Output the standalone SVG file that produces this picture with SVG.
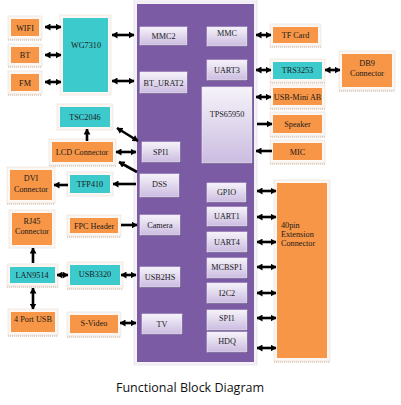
<svg xmlns="http://www.w3.org/2000/svg" width="401" height="405" viewBox="0 0 401 405">
<defs>
<linearGradient id="lav" x1="0" y1="0" x2="0" y2="1">
<stop offset="0" stop-color="#F6F3FA"/>
<stop offset="1" stop-color="#CBBCE0"/>
</linearGradient>
<marker id="ah" viewBox="0 0 6 7" markerWidth="6" markerHeight="7" refX="5.5" refY="3.5" orient="auto-start-reverse" markerUnits="userSpaceOnUse">
<path d="M0,0 L6,3.5 L0,7 z" fill="#000"/>
</marker>
<style>
.fr{fill:#FCF7F3;stroke:#E6DCD3;stroke-width:0.6}
.sh{stroke:#B89A80;stroke-width:0.8;stroke-dasharray:1.2 0.8}
.or{fill:#F79646}
.cy{fill:#3CCACD}
.pu{fill:#7B5BA4}
.in{fill:url(#lav);stroke:#EDE8F3;stroke-width:0.6}
.ish{fill:#5B437D}
text{font-family:"Liberation Serif","Times New Roman",serif;font-size:8.2px;fill:#1a1a1a;text-anchor:middle}
.l{text-anchor:start}
.c line{stroke:#000;stroke-width:2.6}
.d{marker-start:url(#ah);marker-end:url(#ah)}
.e{marker-end:url(#ah)}
.t{font-family:"Open Sans","Liberation Sans",sans-serif;font-size:12.5px;fill:#111}
</style>
</defs>
<rect width="401" height="405" fill="#fff"/>

<g id="main">
<rect x="134" y="1" width="123" height="364" fill="#F4F2F7" stroke="#DDD6E6" stroke-width="0.6"/>
<rect class="pu" x="137" y="4" width="117" height="358"/>
</g>

<g id="wifi"><rect class="fr" x="8" y="16" width="34" height="23"/><line class="sh" x1="8" y1="40" x2="42" y2="40"/><rect class="or" x="11" y="19" width="28" height="17"/><text x="25" y="31">WIFI</text></g>
<g id="bt"><rect class="fr" x="8" y="44" width="34" height="22"/><line class="sh" x1="8" y1="67" x2="42" y2="67"/><rect class="or" x="11" y="47" width="28" height="16"/><text x="25" y="58">BT</text></g>
<g id="fm"><rect class="fr" x="8" y="71" width="34" height="23"/><line class="sh" x1="8" y1="95" x2="42" y2="95"/><rect class="or" x="11" y="74" width="28" height="17"/><text x="25" y="86">FM</text></g>
<g id="wg7310"><rect class="fr" x="60" y="15" width="51" height="80"/><rect class="cy" x="63" y="18" width="45" height="74"/><text x="86" y="48">WG7310</text></g>

<g id="tsc2046"><rect class="fr" x="57" y="104" width="56" height="26"/><rect class="cy" x="60" y="107" width="50" height="20"/><text x="85" y="120">TSC2046</text></g>
<g id="lcd"><rect class="fr" x="49" y="139" width="67" height="26"/><line class="sh" x1="49" y1="166" x2="116" y2="166"/><rect class="or" x="52" y="142" width="61" height="20"/><text x="82" y="155">LCD Connector</text></g>
<g id="dvi"><rect class="fr" x="7" y="167" width="48" height="36"/><line class="sh" x1="7" y1="204" x2="55" y2="204"/><rect class="or" x="10" y="170" width="42" height="30"/><text x="31" y="181">DVI</text><text x="31" y="192">Connector</text></g>
<g id="tfp410"><rect class="fr" x="67" y="172" width="46" height="24"/><rect class="cy" x="70" y="175" width="40" height="18"/><text x="90" y="187">TFP410</text></g>
<g id="rj45"><rect class="fr" x="9" y="210" width="46" height="38"/><rect class="or" x="12" y="213" width="40" height="32"/><text x="32" y="224">RJ45</text><text x="32" y="234">Connector</text></g>
<g id="fpc"><rect class="fr" x="67" y="215" width="54" height="21"/><line class="sh" x1="67" y1="237" x2="121" y2="237"/><rect class="or" x="70" y="218" width="48" height="15"/><text x="94" y="228.5">FPC Header</text></g>
<g id="lan9514"><rect class="fr" x="7" y="264" width="51" height="22"/><line class="sh" x1="7" y1="287" x2="58" y2="287"/><rect class="cy" x="10" y="267" width="45" height="16"/><text x="32" y="278">LAN9514</text></g>
<g id="usb3320"><rect class="fr" x="67" y="262" width="56" height="26"/><line class="sh" x1="67" y1="289" x2="123" y2="289"/><rect class="cy" x="70" y="265" width="50" height="20"/><text x="95" y="277">USB3320</text></g>
<g id="usb4"><rect class="fr" x="8" y="309" width="50" height="26"/><line class="sh" x1="8" y1="336" x2="58" y2="336"/><rect class="or" x="11" y="312" width="44" height="20"/><text x="33" y="321.5">4 Port USB</text></g>
<g id="svideo"><rect class="fr" x="67" y="312" width="54" height="24"/><line class="sh" x1="67" y1="337" x2="121" y2="337"/><rect class="or" x="70" y="315" width="48" height="18"/><text x="94" y="326">S-Video</text></g>

<g id="tfcard"><rect class="fr" x="270" y="24" width="51" height="22"/><line class="sh" x1="270" y1="47" x2="321" y2="47"/><rect class="or" x="273" y="27" width="45" height="16"/><text x="295.5" y="38">TF Card</text></g>
<g id="trs3253"><rect class="fr" x="270" y="59" width="55" height="23"/><line class="sh" x1="270" y1="83" x2="325" y2="83"/><rect class="cy" x="273" y="62" width="49" height="17"/><text x="297.5" y="73">TRS3253</text></g>
<g id="db9"><rect class="fr" x="339" y="51" width="56" height="39"/><line class="sh" x1="339" y1="91" x2="395" y2="91"/><rect class="or" x="342" y="54" width="50" height="33"/><text x="367" y="66">DB9</text><text x="367" y="76">Connector</text></g>
<g id="usbmini"><rect class="fr" x="270" y="85" width="55" height="23"/><line class="sh" x1="270" y1="109" x2="325" y2="109"/><rect class="or" x="273" y="88" width="49" height="17"/><text x="297.5" y="100">USB-Mini AB</text></g>
<g id="speaker"><rect class="fr" x="270" y="112" width="55" height="24"/><line class="sh" x1="270" y1="137" x2="325" y2="137"/><rect class="or" x="273" y="115" width="49" height="18"/><text x="297.5" y="127">Speaker</text></g>
<g id="mic"><rect class="fr" x="270" y="140" width="55" height="23"/><line class="sh" x1="270" y1="164" x2="325" y2="164"/><rect class="or" x="273" y="143" width="49" height="17"/><text x="297.5" y="154.5">MIC</text></g>
<g id="ext40"><rect class="fr" x="274" y="180" width="56" height="181"/><line class="sh" x1="274" y1="362" x2="330" y2="362"/><rect class="or" x="277" y="183" width="50" height="175"/><text class="l" x="281" y="228">40pin</text><text class="l" x="281" y="237">Extension</text><text class="l" x="281" y="246">Connector</text></g>

<g id="inner">
<g id="mmc2"><rect class="ish" x="141" y="28" width="47" height="18"/><rect class="in" x="140" y="27" width="47" height="18"/><text x="163.5" y="39">MMC2</text></g>
<g id="mmc"><rect class="ish" x="208" y="28" width="40" height="19"/><rect class="in" x="207" y="27" width="40" height="19"/><text x="227" y="36">MMC</text></g>
<g id="uart3"><rect class="ish" x="208" y="61" width="40" height="20"/><rect class="in" x="207" y="60" width="40" height="20"/><text x="227" y="73">UART3</text></g>
<g id="bturat2"><rect class="ish" x="141" y="73" width="47" height="21"/><rect class="in" x="140" y="72" width="47" height="21"/><text x="163.5" y="86">BT_URAT2</text></g>
<g id="tps65950"><rect class="ish" x="203" y="88" width="50" height="76"/><rect class="in" x="202" y="87" width="50" height="76"/><text x="227" y="117">TPS65950</text></g>
<g id="spi1a"><rect class="ish" x="143" y="143" width="38" height="20"/><rect class="in" x="142" y="142" width="38" height="20"/><text x="161" y="155">SPI1</text></g>
<g id="dss"><rect class="ish" x="141" y="175" width="39" height="23"/><rect class="in" x="140" y="174" width="39" height="23"/><text x="159.5" y="187">DSS</text></g>
<g id="gpio"><rect class="ish" x="208" y="184" width="39" height="19"/><rect class="in" x="207" y="183" width="39" height="19"/><text x="226.5" y="195">GPIO</text></g>
<g id="uart1"><rect class="ish" x="208" y="208" width="40" height="19"/><rect class="in" x="207" y="207" width="40" height="19"/><text x="227" y="219">UART1</text></g>
<g id="uart4"><rect class="ish" x="208" y="233" width="40" height="20"/><rect class="in" x="207" y="232" width="40" height="20"/><text x="227" y="245">UART4</text></g>
<g id="mcbsp1"><rect class="ish" x="208" y="259" width="40" height="20"/><rect class="in" x="207" y="258" width="40" height="20"/><text x="227" y="270">MCBSP1</text></g>
<g id="i2c2"><rect class="ish" x="208" y="284" width="40" height="20"/><rect class="in" x="207" y="283" width="40" height="20"/><text x="227" y="296">I2C2</text></g>
<g id="spi1b"><rect class="ish" x="208" y="311" width="40" height="20"/><rect class="in" x="207" y="310" width="40" height="20"/><text x="227" y="321">SPI1</text></g>
<g id="hdq"><rect class="ish" x="208" y="333" width="40" height="20"/><rect class="in" x="207" y="332" width="40" height="20"/><text x="227" y="344">HDQ</text></g>
<g id="camera"><rect class="ish" x="141" y="216" width="40" height="20"/><rect class="in" x="140" y="215" width="40" height="20"/><text x="160" y="228">Camera</text></g>
<g id="usb2hs"><rect class="ish" x="141" y="268" width="40" height="20"/><rect class="in" x="140" y="267" width="40" height="20"/><text x="160" y="280">USB2HS</text></g>
<g id="tv"><rect class="ish" x="143" y="315" width="40" height="20"/><rect class="in" x="142" y="314" width="40" height="20"/><text x="162" y="327">TV</text></g>
</g>

<g id="connectors" class="c">
<line class="d" x1="45" y1="27" x2="61" y2="27"/>
<line class="d" x1="45" y1="55" x2="61" y2="55"/>
<line class="d" x1="45" y1="82" x2="61" y2="82"/>
<line class="d" x1="112" y1="35" x2="134" y2="35"/>
<line class="d" x1="112" y1="81" x2="134" y2="81"/>
<line class="e" x1="87" y1="141" x2="87" y2="129"/>
<line class="d" x1="117" y1="128" x2="138" y2="141"/>
<line class="d" x1="116" y1="152" x2="136" y2="152"/>
<line class="e" x1="137" y1="172" x2="119" y2="162"/>
<line class="e" x1="136" y1="184" x2="113" y2="184"/>
<line class="e" x1="68" y1="185" x2="54" y2="185"/>
<line class="e" x1="121" y1="225" x2="137" y2="225"/>
<line class="e" x1="33" y1="263" x2="33" y2="248"/>
<line class="d" x1="57" y1="275" x2="68" y2="275"/>
<line class="d" x1="121" y1="275" x2="136" y2="275"/>
<line class="d" x1="33" y1="288" x2="33" y2="309"/>
<line class="d" x1="120" y1="323" x2="136" y2="323"/>
<line class="d" x1="256" y1="35" x2="271" y2="35"/>
<line class="d" x1="256" y1="70" x2="271" y2="70"/>
<line class="d" x1="325" y1="70" x2="340" y2="70"/>
<line class="d" x1="256" y1="97" x2="271" y2="97"/>
<line class="e" x1="257" y1="124" x2="272" y2="124"/>
<line class="e" x1="272" y1="151" x2="256" y2="151"/>
<line class="d" x1="257" y1="191" x2="276" y2="191"/>
<line class="d" x1="257" y1="217" x2="276" y2="217"/>
<line class="d" x1="257" y1="242" x2="276" y2="242"/>
<line class="d" x1="257" y1="267" x2="276" y2="267"/>
<line class="d" x1="257" y1="293" x2="276" y2="293"/>
<line class="d" x1="257" y1="318" x2="276" y2="318"/>
<line class="d" x1="257" y1="348" x2="276" y2="348"/>
</g>

<text class="t" x="190" y="392">Functional Block Diagram</text>
</svg>
